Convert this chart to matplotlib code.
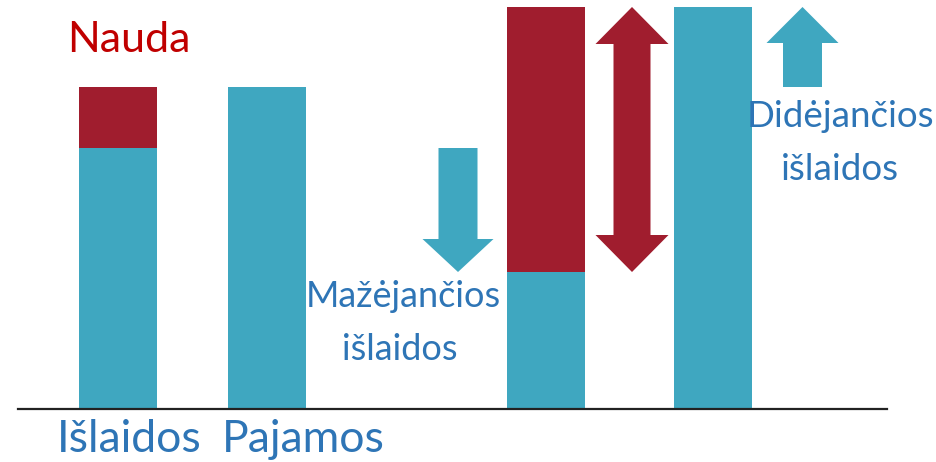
import matplotlib.pyplot as plt
from matplotlib.patches import Polygon

# stulpeliai: išlaidos (mėlyna) ir nauda (raudona)
labels = ["Išlaidos", "Pajamos", "", ""]
islaidos = [261, 322, 137, 402]
nauda = [61, 0, 265, 0]

teal = "#3FA7C0"
dark_red = "#A01D2E"
blue = "#2E75B6"

plt.rcParams['font.family'] = ['Lato', 'DejaVu Sans']

fig = plt.figure(figsize=(9.37, 4.62), dpi=100)
ax = fig.add_axes([0, 0, 1, 1])
ax.set_xlim(0, 937)
ax.set_ylim(-53, 409)
ax.axis('off')

xpos = [118, 267.5, 546.5, 713.5]
ax.bar(xpos, islaidos, width=78, color=teal)
ax.bar(xpos, nauda, width=78, bottom=islaidos, color=dark_red)

ax.plot([18, 887], [0, 0], color="#222222", lw=1.6)

# rodyklės
ax.arrow(458, islaidos[0], 0, islaidos[2] - islaidos[0], width=39, head_width=71,
         head_length=33, length_includes_head=True, color=teal, lw=0)

# dvipusė rodyklė per visą naudos dalį
lo = islaidos[2]
hi = islaidos[2] + nauda[2]
cx, sw, hw, hl = 632, 18.5, 36.5, 37
pts = [(cx, hi), (cx + hw, hi - hl), (cx + sw, hi - hl), (cx + sw, lo + hl),
       (cx + hw, lo + hl), (cx, lo), (cx - hw, lo + hl), (cx - sw, lo + hl),
       (cx - sw, hi - hl), (cx - hw, hi - hl)]
ax.add_patch(Polygon(pts, closed=True, color=dark_red, lw=0))

ax.arrow(802.5, islaidos[1], 0, islaidos[3] - islaidos[1], width=39, head_width=72,
         head_length=36, length_includes_head=True, color=teal, lw=0)

ax.text(67, 357, "Nauda", color="#C00000", fontsize=31, va='baseline')
ax.text(57, -43, labels[0], color=blue, fontsize=32, va='baseline')
ax.text(222, -43, labels[1], color=blue, fontsize=32, va='baseline')
ax.text(403, 102, "Mažėjančios", color=blue, fontsize=26, ha='center', va='baseline')
ax.text(400, 49, "išlaidos", color=blue, fontsize=26, ha='center', va='baseline')
ax.text(840, 282, "Didėjančios", color=blue, fontsize=26.5, ha='center', va='baseline')
ax.text(840, 229, "išlaidos", color=blue, fontsize=26.5, ha='center', va='baseline')

fig.savefig("out.png", dpi=100)
